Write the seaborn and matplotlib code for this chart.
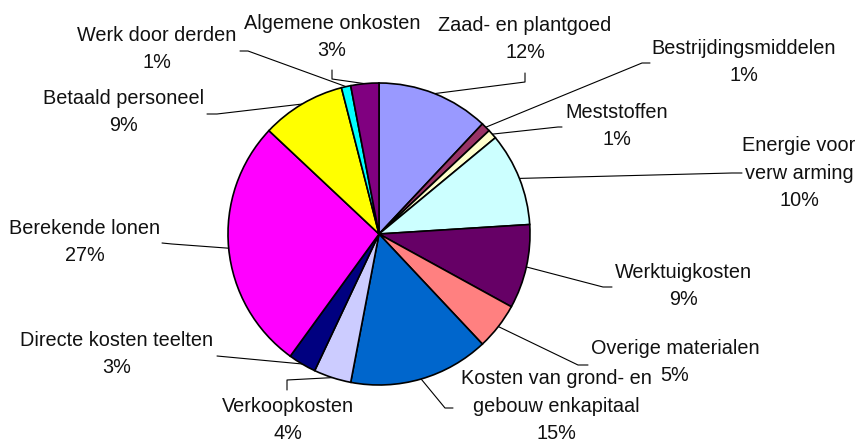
import numpy as np
import matplotlib
matplotlib.use("Agg")
import matplotlib.pyplot as plt
import seaborn as sns

categories = [
    "Zaad- en plantgoed", "Bestrijdingsmiddelen", "Meststoffen",
    "Energie voor\nverw arming", "Werktuigkosten", "Overige materialen",
    "Kosten van grond- en\ngebouw enkapitaal", "Verkoopkosten",
    "Directe kosten teelten", "Berekende lonen", "Betaald personeel",
    "Werk door derden", "Algemene onkosten",
]
shares = [12, 1, 1, 10, 9, 5, 15, 4, 3, 27, 9, 1, 3]
colors = [
    "#9999FF", "#993366", "#FFFFCC", "#CCFFFF", "#660066", "#FF8080",
    "#0066CC", "#CCCCFF", "#000080", "#FF00FF", "#FFFF00", "#00FFFF", "#800080",
]

# layout in pixels, y measured from the top: label centre, leader elbow, leader end
label_pos = [(525, 39), (744, 62), (617, 126), (799, 173), (683, 286), (675, 362),
             (556, 406), (288, 420), (117, 354), (85, 242), (124, 112), (157, 49), (332, 37)]
elbow_pos = [(525, 82), (642, 63), (558, 127), (732, 173), (603, 287), (578, 365),
             (445, 408), (287, 380), (217, 356), (172, 244), (217, 114), (248, 51), (332, 79)]
end_pos = [(525, 73), (650, 63), (562, 127), (742, 173), (612, 287), (588, 365),
           (453, 408), (287, 390), (217, 356), (162, 243), (207, 114), (240, 51), (332, 70)]

W, H = 859, 443
CX, CY, R = 379, 234, 151

sns.set_theme(style="white")
plt.rcParams["font.family"] = ["Liberation Sans", "DejaVu Sans"]

fig = plt.figure(figsize=(W / 100, H / 100), dpi=100)
ax = fig.add_axes([0, 0, 1, 1])
wedges, _ = ax.pie(shares, colors=colors, startangle=90, counterclock=False,
                   center=(CX, H - CY), radius=R,
                   wedgeprops=dict(edgecolor="black", linewidth=1.2))
ax.set_xlim(0, W)
ax.set_ylim(0, H)
ax.set_aspect("equal")
ax.axis("off")

for w, name, share, (tx, ty), (ex, ey), (fx, fy) in zip(
        wedges, categories, shares, label_pos, elbow_pos, end_pos):
    ang = np.deg2rad((w.theta1 + w.theta2) / 2)
    sx = CX + R * np.cos(ang)
    sy = H - CY + R * np.sin(ang)
    ax.plot([sx, ex, fx], [sy, H - ey, H - fy], color="black", lw=0.8, zorder=0.5)
    ax.text(tx, H - ty, f"{name}\n{share}%", ha="center", va="center",
            fontsize=14.3, linespacing=1.55, color="#111111")

fig.savefig("out.png", dpi=100)
